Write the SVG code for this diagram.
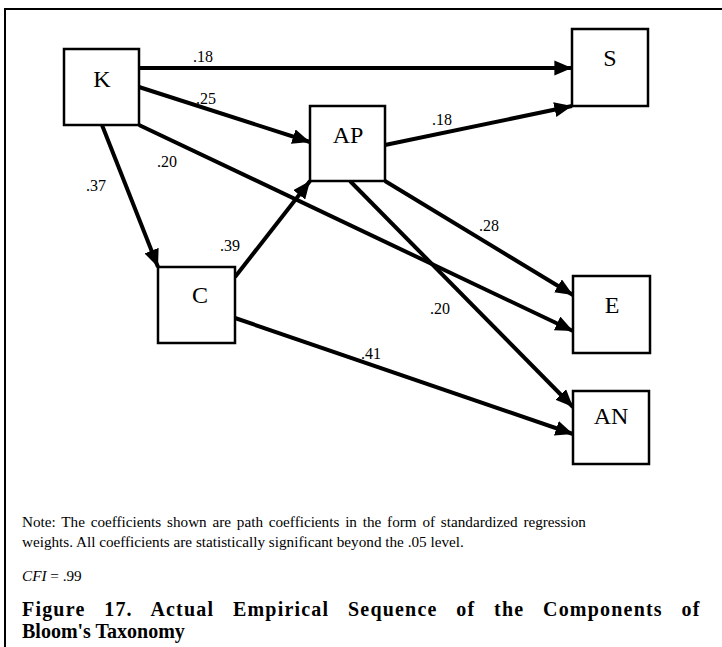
<svg xmlns="http://www.w3.org/2000/svg" width="722" height="647" viewBox="0 0 722 647">
  <style>
    .box { fill: #fff; stroke: #000; stroke-width: 2.5; }
    .path { stroke: #000; stroke-width: 4; fill: none; marker-end: url(#arrow); }
  </style>
  <defs>
    <marker id="arrow" markerWidth="4.4" markerHeight="3.8" refX="4.4" refY="1.9" orient="auto" markerUnits="strokeWidth">
      <path d="M0,0 L4.4,1.9 L0,3.8 Z" fill="#000"/>
    </marker>
  </defs>
  <rect width="722" height="647" fill="#fff"/>
  <!-- frame: top and left rules only -->
  <path d="M5,647 L5,9 L722,9" stroke="#000" stroke-width="2" fill="none"/>

  <g id="connectors">
    <line class="path" x1="139" y1="68" x2="572" y2="68"/>
    <line class="path" x1="139" y1="87" x2="310" y2="142"/>
    <line class="path" x1="139" y1="125" x2="573" y2="331"/>
    <line class="path" x1="102" y1="125" x2="158" y2="267"/>
    <line class="path" x1="235" y1="277" x2="310" y2="181"/>
    <line class="path" x1="385" y1="145" x2="572" y2="106"/>
    <line class="path" x1="385" y1="181" x2="573" y2="295"/>
    <line class="path" x1="350" y1="181" x2="573" y2="407"/>
    <line class="path" x1="235" y1="318" x2="573" y2="434"/>
    <g font-family="Liberation Serif, Times New Roman, serif" font-size="16" fill="#000">
      <text x="193" y="62">.18</text>
      <text x="196" y="104">.25</text>
      <text x="157" y="167">.20</text>
      <text x="86" y="191">.37</text>
      <text x="220" y="251">.39</text>
      <text x="432" y="125">.18</text>
      <text x="479" y="231">.28</text>
      <text x="430" y="314">.20</text>
      <text x="361" y="359">.41</text>
    </g>
  </g>

  <g font-family="Liberation Serif, Times New Roman, serif" font-size="24" text-anchor="middle" fill="#000">
    <g id="node-K">
      <rect class="box" x="64" y="49" width="75" height="76"/>
      <text x="102" y="87">K</text>
    </g>
    <g id="node-S">
      <rect class="box" x="572" y="29" width="76" height="77"/>
      <text x="610" y="66">S</text>
    </g>
    <g id="node-AP">
      <rect class="box" x="310" y="106" width="75" height="75"/>
      <text x="348" y="143">AP</text>
    </g>
    <g id="node-C">
      <rect class="box" x="158" y="267" width="77" height="76"/>
      <text x="200" y="303">C</text>
    </g>
    <g id="node-E">
      <rect class="box" x="573" y="276" width="77" height="77"/>
      <text x="612" y="313">E</text>
    </g>
    <g id="node-AN">
      <rect class="box" x="573" y="391" width="76" height="73"/>
      <text x="611" y="424">AN</text>
    </g>
  </g>

  <g id="notes" font-family="Liberation Serif, Times New Roman, serif" fill="#000">
    <text x="22" y="527" font-size="15.2" word-spacing="2">Note: The coefficients shown are path coefficients in the form of standardized regression</text>
    <text x="22" y="547" font-size="15.2">weights. All coefficients are statistically significant beyond the .05 level.</text>
    <text x="22" y="581" font-size="15.2"><tspan font-style="italic">CFI</tspan> = .99</text>
    <text x="22" y="616" font-size="20" font-weight="bold" letter-spacing="1.2" word-spacing="12.5">Figure 17. Actual Empirical Sequence of the Components of</text>
    <text x="22" y="638" font-size="20" font-weight="bold">Bloom's Taxonomy</text>
  </g>
</svg>
